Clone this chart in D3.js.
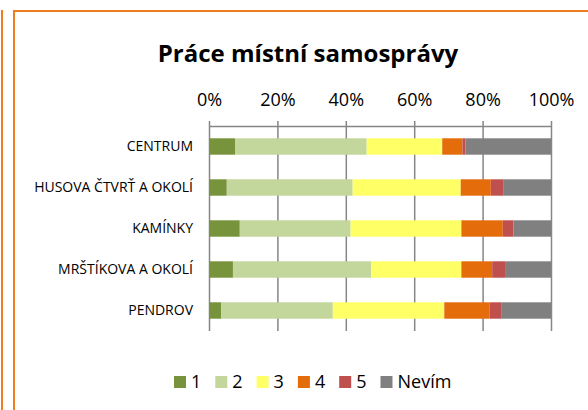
<!DOCTYPE html>
<html>
<head>
<meta charset="utf-8">
<script src="https://cdn.jsdelivr.net/npm/d3@7"></script>
<style>
  body { margin: 0; background: #fff; }
  svg { display: block; font-family: "Open Sans", sans-serif; }
</style>
</head>
<body>
<div id="chart"></div>
<script>
const categories = ['CENTRUM', 'HUSOVA ČTVRŤ A OKOLÍ', 'KAMÍNKY', 'MRŠTÍKOVA A OKOLÍ', 'PENDROV']
const keys = ['1', '2', '3', '4', '5', 'Nevím']
// share of answers in %, one array per answer
const s1 = [7.6, 5.2, 9.0, 7.0, 3.6]
const s2 = [38.5, 36.8, 32.4, 40.4, 32.6]
const s3 = [22.1, 31.6, 32.4, 26.4, 32.6]
const s4 = [5.9, 8.8, 12.1, 9.0, 13.2]
const s5 = [0.9, 3.6, 3.1, 4.0, 3.6]
const s6 = [25.0, 14.0, 11.0, 13.2, 14.4]
const colors = ['#77933C', '#C3D69B', '#FFFF66', '#E46C0A', '#C0504D', '#808080']
const tickVals = [0, 20, 40, 60, 80, 100]

const W = 588, H = 410
const plot = {left: 209, right: 551, top: 126, bottom: 331}

const rows = categories.map((c, i) => {
  const r = {cat: c}
  ;[s1, s2, s3, s4, s5, s6].forEach((s, k) => r[keys[k]] = s[i])
  return r
})

const svg = d3.select('#chart').append('svg')
  .attr('width', W)
  .attr('height', H)

// frame (chart border + edge of neighbouring chart)
svg.append('line').attr('x1', 2).attr('x2', 2).attr('y1', 10).attr('y2', H)
  .attr('stroke', '#EE7D22').attr('stroke-width', 2)
svg.append('path').attr('d', `M14,${H} V11 H${W}`)
  .attr('fill', 'none').attr('stroke', '#EE7D22').attr('stroke-width', 2)

svg.append('text')
  .attr('x', 308).attr('y', 62)
  .attr('text-anchor', 'middle')
  .attr('font-size', 24).attr('font-weight', 'bold')
  .text('Práce místní samosprávy')

const x = d3.scaleLinear().domain([0, 100]).range([plot.left, plot.right])
const y = d3.scaleBand().domain(categories).range([plot.top, plot.bottom])
  .paddingInner(0.6).paddingOuter(0.3)

const xax = svg.append('g')
  .attr('transform', 'translate(0,' + plot.top + ')')
  .call(d3.axisTop(x).tickValues(tickVals).tickFormat(d => d + '%')
    .tickSizeInner(-(plot.bottom - plot.top)).tickSizeOuter(0))
xax.select('.domain').attr('stroke', '#868686').attr('stroke-width', 1.5)
xax.selectAll('.tick line').attr('y1', -5).attr('stroke', '#868686').attr('stroke-width', 1.5)
xax.selectAll('.tick text').attr('y', -20).attr('dy', 0)
  .attr('font-size', 18).attr('font-family', '"Open Sans", sans-serif').attr('fill', '#000')

const stack = d3.stack().keys(keys)(rows)

svg.append('g').selectAll('g')
  .data(stack)
  .join('g')
  .attr('fill', (d, i) => colors[i])
  .selectAll('rect')
  .data(d => d)
  .join('rect')
  .attr('x', d => x(d[0]))
  .attr('width', d => x(d[1]) - x(d[0]))
  .attr('y', d => y(d.data.cat))
  .attr('height', y.bandwidth())

svg.append('g').selectAll('text')
  .data(categories)
  .join('text')
  .attr('x', 193)
  .attr('y', d => y(d) + y.bandwidth() / 2)
  .attr('dy', '0.35em')
  .attr('text-anchor', 'end')
  .attr('font-size', 14)
  .attr('fill', '#000')
  .text(d => d)

// legend
const leg = svg.append('g').attr('transform', 'translate(174,376)')
let lx = 0
keys.forEach((k, i) => {
  const g = leg.append('g').attr('transform', 'translate(' + lx + ',0)')
  g.append('rect').attr('width', 12).attr('height', 12).attr('fill', colors[i])
  const t = g.append('text').attr('x', 17).attr('y', 6).attr('dy', '0.36em')
    .attr('font-size', 18).attr('fill', '#000').text(k)
  lx += 17 + t.node().getComputedTextLength() + 14
})
</script>
</body>
</html>
